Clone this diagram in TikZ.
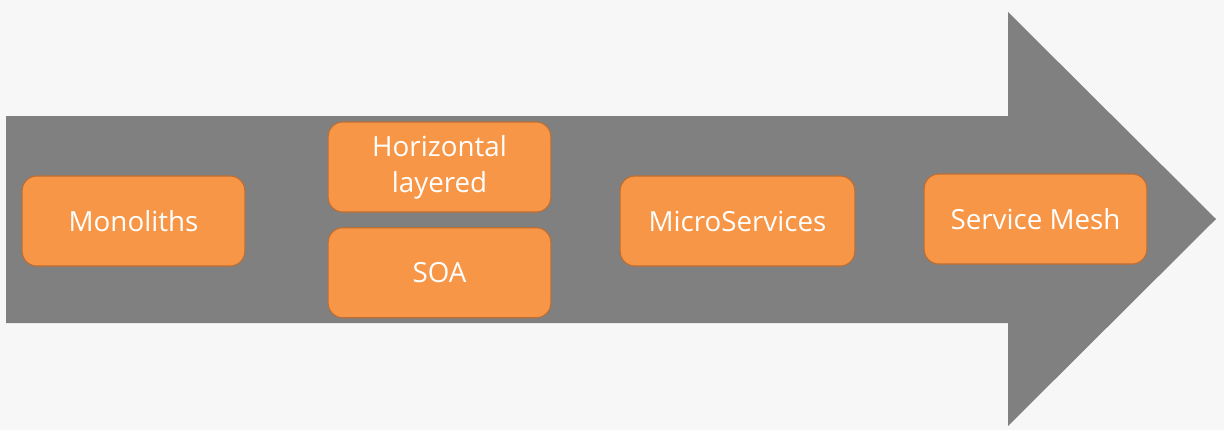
\documentclass[tikz,border=0pt]{standalone}
\usepackage{fontspec}
\setmainfont{Open Sans}
\usepackage{tikz}
\usetikzlibrary{positioning}
\definecolor{bgGray}{RGB}{247,247,247}
\definecolor{arrowGray}{RGB}{128,128,128}
\definecolor{boxOrange}{RGB}{247,150,70}
\definecolor{boxEdge}{RGB}{190,110,50}

\tikzset{
  stage/.style={draw=boxEdge, line width=0.8pt, fill=boxOrange, rounded corners=11pt,
    minimum width=167pt, minimum height=67.5pt, inner sep=0pt,
    text=white, align=center, font=\fontsize{20.8}{27}\selectfont}
}

\begin{document}
\begin{tikzpicture}[x=0.75pt,y=-0.75pt]
  % Canvas
  \fill[bgGray] (0,0) rectangle (1224,430);
  \useasboundingbox (0,0) rectangle (1224,430);

  % Big arrow
  \coordinate (tail top) at (6,116);
  \coordinate (tail bot) at (6,323);
  \coordinate (tip) at (1216,219);
  \fill[arrowGray] (tail top) -- (1008,116) -- (1008,12) -- (tip)
    -- (1008,426) -- (1008,323) -- (tail bot) -- cycle;

  % Stages
  \node[stage] (mono) at (133.5,221) {Monoliths};
  \node[stage] (layer) at (439.5,167) {Horizontal\\layered};
  \node[stage, below=11pt of layer] (soa) {SOA};
  \node[stage, minimum width=176pt] (micro) at (737.5,221) {MicroServices};
  \node[stage] (mesh) at (1035.5,219) {Service Mesh};
\end{tikzpicture}
\end{document}
